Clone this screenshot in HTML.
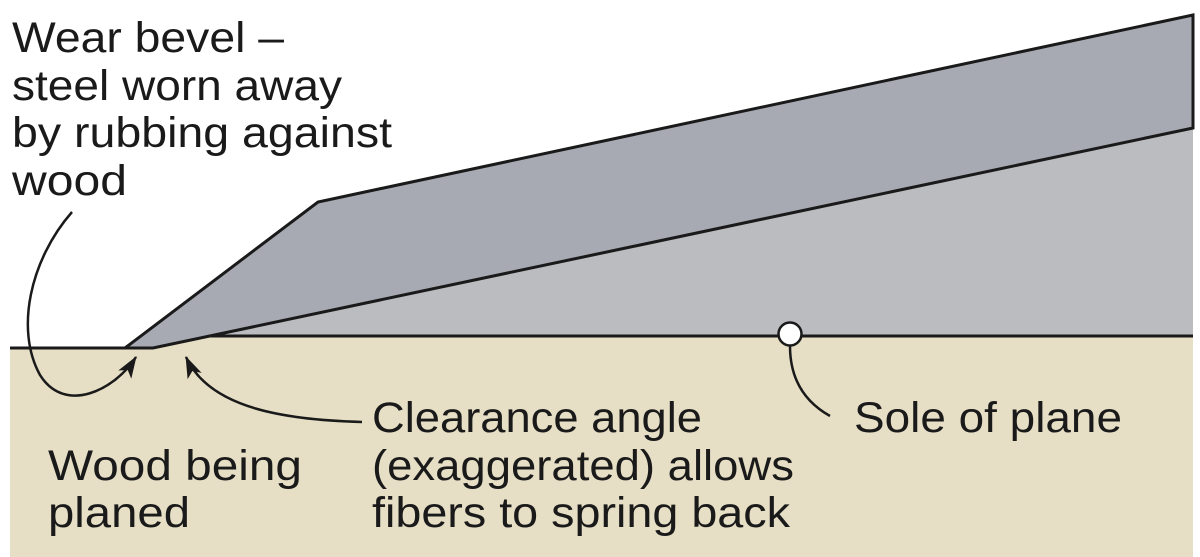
<!DOCTYPE html>
<html><head><style>body{margin:0;background:#fff}svg{display:block}</style></head>
<body>
<svg width="1200" height="557" viewBox="0 0 1200 557" xmlns="http://www.w3.org/2000/svg">
<defs>
<marker id="b" viewBox="0 0 20 14" markerWidth="22" markerHeight="16" refX="19" refY="7" orient="auto" markerUnits="userSpaceOnUse"><path d="M0,0 L20,7 L0,14 L5,7 Z" fill="#1a1a1a"/></marker></defs>
<polygon points="10,348 153,348 210,336 1193,336 1193,557 10,557" fill="#e6dfc6"/>
<polygon points="153,348 1193,128 1193,336 210,336" fill="#bbbcc0"/>
<polygon points="125,348 318,202 1193,15 1193,128 153,348" fill="#a7aab3" stroke="#1a1a1a" stroke-width="3" stroke-linejoin="miter"/>
<line x1="10" y1="348" x2="125" y2="348" stroke="#1a1a1a" stroke-width="3"/>
<line x1="210" y1="336" x2="1193" y2="336" stroke="#1a1a1a" stroke-width="3"/>
<circle cx="790" cy="334" r="11.5" fill="#fff" stroke="#1a1a1a" stroke-width="2.5"/>
<g fill="none" stroke="#1a1a1a" stroke-width="2.5">
<path d="M72,212 C30,260 15,330 40,375 C65,415 115,390 136,357" marker-end="url(#b)"/>
<path d="M362,422 C290,420 210,410 186,357" marker-end="url(#b)"/>
<path d="M790,346 C790,380 805,402 830,416"/>
</g>
<g font-family="Liberation Sans, sans-serif" font-size="43" fill="#1a1a1a">
<text x="12" y="52" textLength="272" lengthAdjust="spacingAndGlyphs">Wear bevel –</text>
<text x="12" y="100" textLength="330" lengthAdjust="spacingAndGlyphs">steel worn away</text>
<text x="12" y="147" textLength="380" lengthAdjust="spacingAndGlyphs">by rubbing against</text>
<text x="12" y="195" textLength="115" lengthAdjust="spacingAndGlyphs">wood</text>
<text x="372" y="432" textLength="330" lengthAdjust="spacingAndGlyphs">Clearance angle</text>
<text x="372" y="480" textLength="422" lengthAdjust="spacingAndGlyphs">(exaggerated) allows</text>
<text x="372" y="527" textLength="418" lengthAdjust="spacingAndGlyphs">fibers to spring back</text>
<text x="854" y="432" textLength="268" lengthAdjust="spacingAndGlyphs">Sole of plane</text>
<text x="48" y="480" textLength="254" lengthAdjust="spacingAndGlyphs">Wood being</text>
<text x="48" y="527" textLength="142" lengthAdjust="spacingAndGlyphs">planed</text>
</g>
</svg>
</body></html>
